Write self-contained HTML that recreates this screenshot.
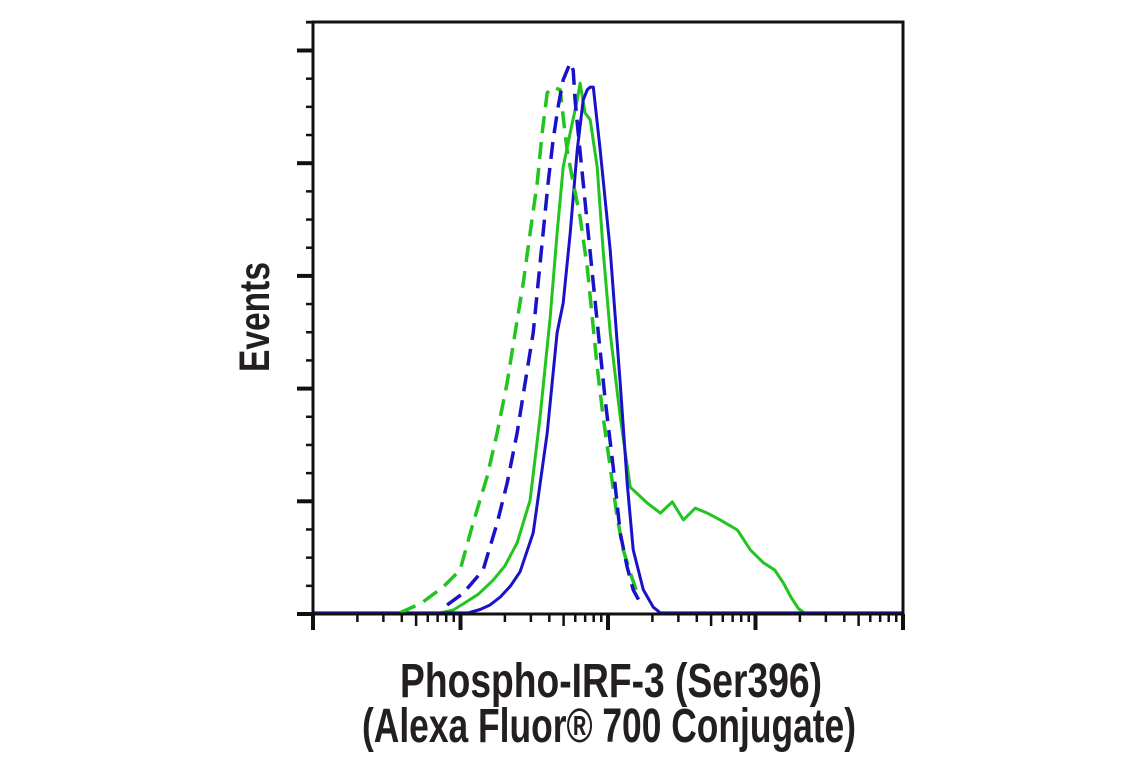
<!DOCTYPE html>
<html><head><meta charset="utf-8"><style>
html,body{margin:0;padding:0;background:#fff;width:1141px;height:768px;overflow:hidden}
svg{display:block}
text{font-family:"Liberation Sans",sans-serif;font-weight:bold;fill:#231f20}
</style></head><body>
<svg id="chart" width="1141" height="768" viewBox="0 0 1141 768" xmlns="http://www.w3.org/2000/svg">
<g id="curves"></g>
<g id="axes"></g>
<text transform="translate(269,372) rotate(-90)" font-size="43" textLength="110" lengthAdjust="spacingAndGlyphs">Events</text>
<text x="400" y="697" font-size="48" textLength="422" lengthAdjust="spacingAndGlyphs">Phospho-IRF-3 (Ser396)</text>
<text x="362" y="742" font-size="48" textLength="494" lengthAdjust="spacingAndGlyphs">(Alexa Fluor® 700 Conjugate)</text>
</svg>
<script>
// log10 decade positions and event counts (y units: 20 per major tick)
const greenSolidX=[0,0.85,0.95,1.018,1.12,1.221,1.30,1.384,1.472,1.540,1.608,1.655,1.696,1.744,1.791,1.811,1.845,1.879,1.927,1.967,2.015,2.083,2.151,2.266,2.355,2.436,2.511,2.592,2.673,2.761,2.877,2.965,3.053,3.13,3.189,3.24,3.29,3.33,4];
const greenSolidY=[0,0.1,0.7,1.8,3.5,6.0,8.5,12.6,20.2,35.0,52.7,67.6,79.3,85.4,91.2,94.2,88.9,87.7,79.3,64.6,49.9,35.0,22.5,19.7,17.9,19.9,16.7,18.8,17.9,16.7,14.9,11.4,9.1,7.8,5.5,3.0,1.0,0.2,0];
const blueSolidX=[0,1.05,1.133,1.2,1.269,1.34,1.404,1.493,1.588,1.655,1.696,1.744,1.791,1.832,1.859,1.879,1.900,1.947,2.015,2.083,2.130,2.171,2.239,2.307,2.355,4];
const blueSolidY=[0.2,0.2,0.8,1.6,3.0,5.0,7.5,14.4,32.1,49.9,55.2,67.6,82.3,91.2,93.0,93.5,93.5,82.3,64.6,41.0,23.2,11.4,4.3,1.2,0.2,0.2];
const blueDashX=[0.909,1.018,1.153,1.248,1.316,1.384,1.438,1.493,1.526,1.560,1.594,1.628,1.662,1.696,1.744,1.764,1.777,1.798,1.832,1.866,1.900,1.934,1.981,2.035,2.083,2.130,2.171,2.218];
const blueDashY=[1.6,3.7,7.8,16.1,23.2,32.1,41.0,49.9,58.7,67.6,76.5,84.1,90.0,94.8,97.8,96.5,91.2,85.4,76.5,67.6,58.7,49.9,38.0,26.1,14.4,8.3,4.3,2.0];
const greenDashX=[0.590,0.739,0.882,0.997,1.085,1.180,1.248,1.316,1.370,1.425,1.472,1.520,1.554,1.588,1.628,1.676,1.696,1.723,1.764,1.811,1.859,1.893,1.927,1.967,2.015,2.062,2.103,2.151,2.198];
const greenDashY=[0.2,2.0,4.8,7.8,16.1,24.3,32.1,41.0,49.9,58.7,67.6,76.5,85.4,92.5,93.5,93.0,88.2,82.3,76.5,70.4,61.6,52.7,43.8,35.0,26.1,17.2,11.4,7.3,3.7];
const yTicks=[0,20,40,60,80,100];

const L=313,R=903,T=22,B=614;
const xs=d=>L+d*(R-L)/4;
const ys=u=>B-u*112.7/20;
const NS="http://www.w3.org/2000/svg";
const curves=document.getElementById('curves');
const axes=document.getElementById('axes');
function mk(tag,attrs,parent){const e=document.createElementNS(NS,tag);for(const k in attrs)e.setAttribute(k,attrs[k]);parent.appendChild(e);return e;}
function series(X,Y,color,dash,name){
  const d=X.map((x,i)=>(i?'L':'M')+xs(x).toFixed(1)+','+ys(Y[i]).toFixed(1)).join(' ');
  const p=mk('path',{d:d,fill:'none',stroke:color,'stroke-width':dash?3.5:3,'stroke-linejoin':'round'},curves);
  if(dash)p.setAttribute('stroke-dasharray','17 9');
  
  
}
series(greenSolidX,greenSolidY,'#22c41e',false,'green-solid-histogram');
series(blueSolidX,blueSolidY,'#1a12c8',false,'blue-solid-histogram');
series(greenDashX,greenDashY,'#22c41e',true,'green-dashed-histogram');
series(blueDashX,blueDashY,'#1a12c8',true,'blue-dashed-histogram');

const frame=mk('rect',{x:L,y:T,width:R-L,height:B-T,fill:'none',stroke:'#111','stroke-width':3},axes);


for(let i=0;i<yTicks.length;i++){
  const t=mk('line',{x1:L-16,x2:L,y1:ys(yTicks[i]),y2:ys(yTicks[i]),stroke:'#111','stroke-width':4},axes);
  
  
  for(let k=1;k<4;k++){
    const v=yTicks[i]+k*5; if(ys(v)<T)break;
    const m=mk('line',{x1:L-7,x2:L,y1:ys(v),y2:ys(v),stroke:'#111','stroke-width':2.5},axes);
    
    
  }
}
const topTick=mk('line',{x1:L-7,x2:L,y1:T,y2:T,stroke:'#111','stroke-width':2.5},axes);


for(let dec=0;dec<=4;dec++){
  const t=mk('line',{x1:xs(dec),x2:xs(dec),y1:B,y2:B+16,stroke:'#111','stroke-width':4},axes);
  
  
  if(dec<4)for(let k=2;k<=9;k++){
    const x=xs(dec+Math.log10(k));
    const m=mk('line',{x1:x,x2:x,y1:B,y2:B+(k===5?12:8),stroke:'#111','stroke-width':2.5},axes);
    
    
  }
}
</script>
</body></html>
